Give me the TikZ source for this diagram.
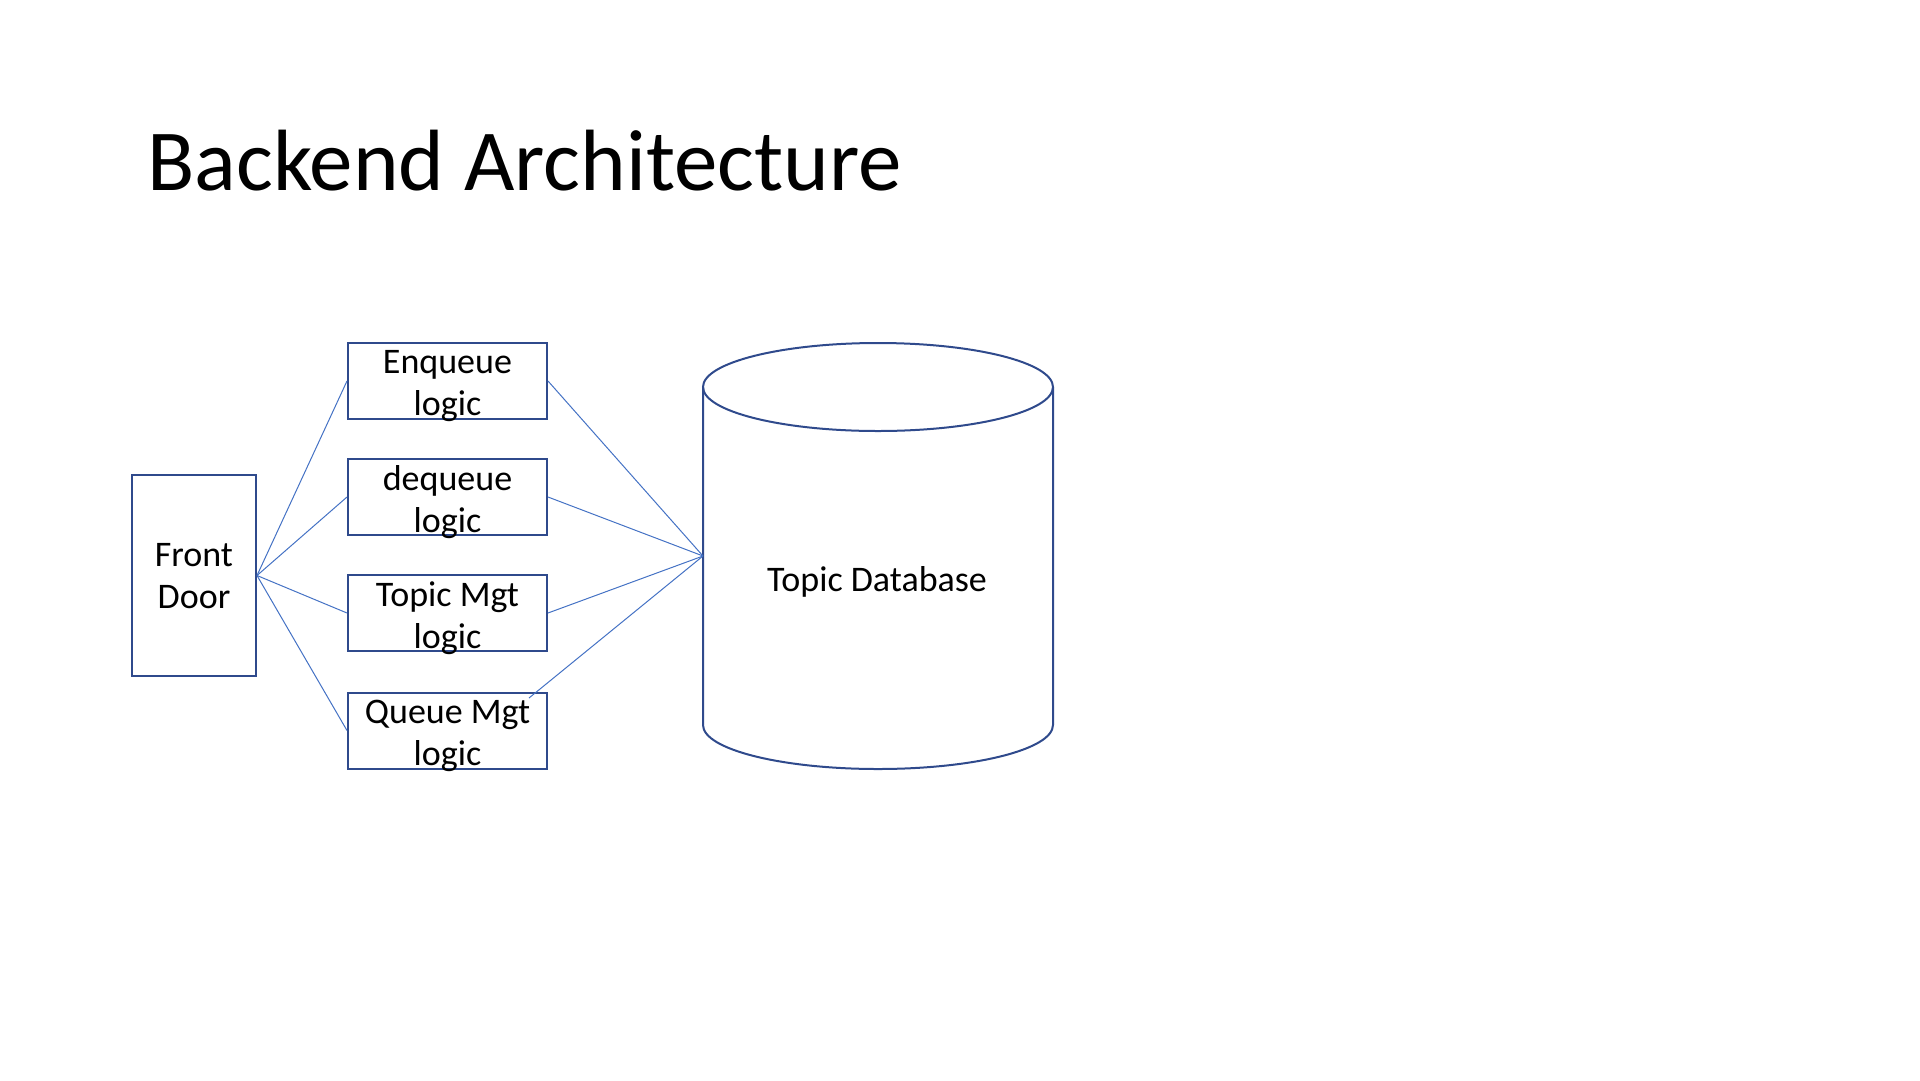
\documentclass[tikz,border=0pt]{standalone}
\usepackage{fontspec}
\setmainfont{Carlito}
\definecolor{boxblue}{HTML}{2F4A8C}
\definecolor{lineblue}{HTML}{4472C4}
\begin{document}
\begin{tikzpicture}[x=1pt,y=-1pt,
  box/.style={draw=boxblue,line width=2pt,inner sep=0pt},
  txt/.style={inner sep=0pt,align=center,font=\fontsize{36}{42}\selectfont,yshift=-5pt},
  conn/.style={draw=lineblue,line width=1pt}]
\useasboundingbox (0,0) rectangle (1920,1080);
\node[anchor=base west,inner sep=0pt,font=\fontsize{87}{100}\selectfont] (title) at (147,190) {Backend Architecture};
\node[box,minimum width=124pt,minimum height=201pt,label={[txt,yshift=4pt]center:Front\\Door}] (fd) at (194,575.5) {};
\node[box,minimum width=199pt,minimum height=76pt,label={[txt]center:Enqueue\\logic}] (enq) at (447.5,381) {};
\node[box,minimum width=199pt,minimum height=76pt,label={[txt]center:dequeue\\logic}] (deq) at (447.5,497) {};
\node[box,minimum width=199pt,minimum height=76pt,label={[txt]center:Topic Mgt\\logic}] (tm) at (447.5,613) {};
\node[box,minimum width=199pt,minimum height=76pt,label={[txt]center:Queue Mgt\\logic}] (qm) at (447.5,730.5) {};
% cylinder
\draw[boxblue,line width=2pt] (878,387) ellipse [x radius=175, y radius=44];
\draw[boxblue,line width=2pt] (703,387) -- (703,725) arc[start angle=180,end angle=0,x radius=175,y radius=44] -- (1053,387);
\node[txt,yshift=2pt] (db) at (877,579) {Topic Database};
\coordinate (dbL) at (703,556);
\coordinate (qmEnd) at (529,698);
\draw[conn] (fd.east) -- (enq.west);
\draw[conn] (fd.east) -- (deq.west);
\draw[conn] (fd.east) -- (tm.west);
\draw[conn] (fd.east) -- (qm.west);
\draw[conn] (enq.east) -- (dbL);
\draw[conn] (deq.east) -- (dbL);
\draw[conn] (tm.east) -- (dbL);
\draw[conn] (qmEnd) -- (dbL);
\end{tikzpicture}
\end{document}
